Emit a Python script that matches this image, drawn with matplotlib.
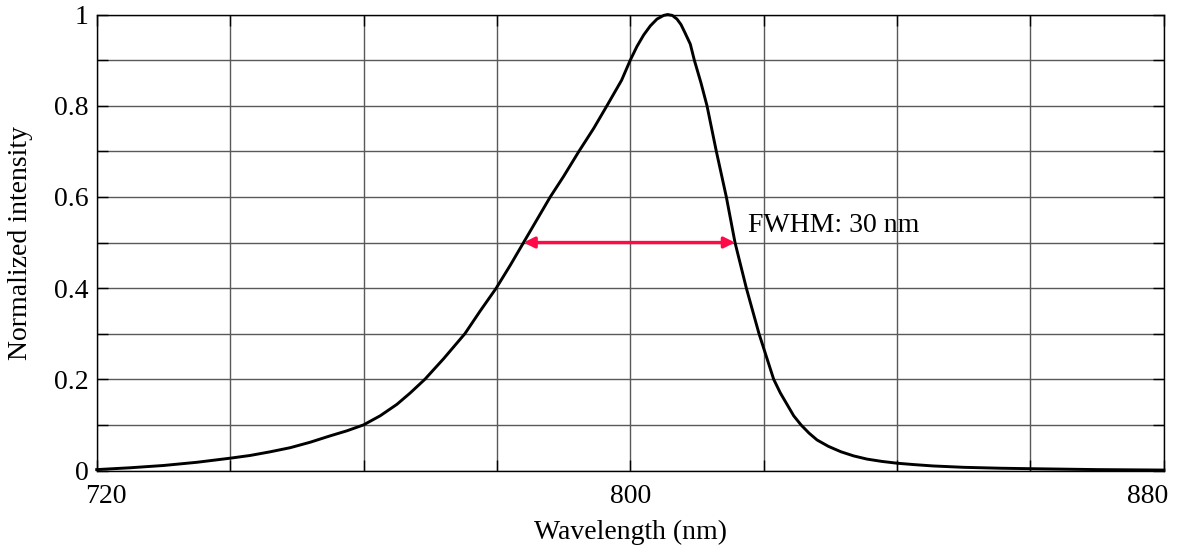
import matplotlib.pyplot as plt
import matplotlib.transforms as mtransforms

plt.rcParams['font.family'] = ['Liberation Serif', 'DejaVu Serif']

# emission spectrum
wavelength = [720, 725, 730, 735, 740, 743, 746, 749, 752, 755, 757.5, 760, 762.5, 765,
              767, 769.2, 772, 775.2, 777.5, 779.9, 782, 784.0, 786, 788.0, 790, 792.3,
              794.5, 796.5, 798.7, 800.0, 801, 802.0, 803.0, 804, 805, 805.6, 806.3, 807,
              807.6, 808.2, 809, 809.6, 810.6, 811.5, 812.9, 814.4, 815.7, 817.4, 819.3,
              820.4, 821.5, 822.5, 823.5, 824.5, 825.6, 826.8, 828.0, 829.7, 831.6, 833.5,
              835.5, 837.7, 840.0, 842.5, 845.4, 850, 855.5, 860, 870, 880]
intensity = [0.002, 0.006, 0.011, 0.018, 0.027, 0.033, 0.041, 0.050, 0.062, 0.076, 0.087,
             0.100, 0.120, 0.145, 0.170, 0.200, 0.245, 0.300, 0.350, 0.400, 0.450, 0.500,
             0.550, 0.600, 0.645, 0.700, 0.750, 0.800, 0.856, 0.900, 0.930, 0.955, 0.975,
             0.990, 0.998, 1.000, 0.998, 0.990, 0.978, 0.960, 0.935, 0.900, 0.850, 0.800,
             0.700, 0.600, 0.500, 0.400, 0.300, 0.250, 0.200, 0.170, 0.145, 0.120, 0.100,
             0.082, 0.067, 0.053, 0.041, 0.032, 0.025, 0.020, 0.016, 0.013, 0.010, 0.007,
             0.005, 0.004, 0.002, 0.001]

fwhm_left = 784.0
fwhm_right = 815.7
half_max = 0.5

x_ticks = list(range(720, 881, 20))
x_labels = ['720', '', '', '', '800', '', '', '', '880']
y_ticks = [i / 10 for i in range(11)]
y_labels = ['0', '', '0.2', '', '0.4', '', '0.6', '', '0.8', '', '1']

fig = plt.figure(figsize=(11.78, 5.54), dpi=100)
ax = fig.add_axes([0.0821, 0.1507, 0.9059, 0.8231])

ax.plot(wavelength, intensity, color='black', lw=2.1, clip_on=False, zorder=3,
        solid_joinstyle='round')

ax.annotate('', xy=(fwhm_left, half_max), xytext=(fwhm_right, half_max),
            arrowprops=dict(arrowstyle='<|-|>', color='#ff0a46', lw=2.4,
                            mutation_scale=16, shrinkA=0, shrinkB=0), zorder=4)
ax.text(817.7, 0.523, 'FWHM: 30 nm', fontsize=20, va='baseline', ha='left')

ax.set_xlim(720, 880)
ax.set_ylim(0, 1)
ax.set_xticks(x_ticks)
ax.set_xticklabels(x_labels)
ax.set_yticks(y_ticks)
ax.set_yticklabels(y_labels)
ax.grid(True, color='0.35', lw=1.0)

ax.tick_params(direction='in', length=8, width=1, top=True, right=True,
               labelsize=20, color='black')
ax.tick_params(axis='x', pad=10)
ax.tick_params(axis='y', pad=6)
for s in ax.spines.values():
    s.set_linewidth(1.0)
    s.set_color('black')

# nudge end labels like the original
lbls = ax.get_xticklabels()
lbls[0].set_transform(lbls[0].get_transform() +
                      mtransforms.ScaledTranslation(9 / 100, 0, fig.dpi_scale_trans))
lbls[-1].set_transform(lbls[-1].get_transform() +
                       mtransforms.ScaledTranslation(-16 / 100, 0, fig.dpi_scale_trans))

ax.set_xlabel('Wavelength (nm)', fontsize=20)
ax.set_ylabel('Normalized intensity', fontsize=20)
ax.xaxis.set_label_coords(0.5, -0.108)
ax.yaxis.set_label_coords(-0.06, 0.5)

fig.savefig('out.png', dpi=100)
